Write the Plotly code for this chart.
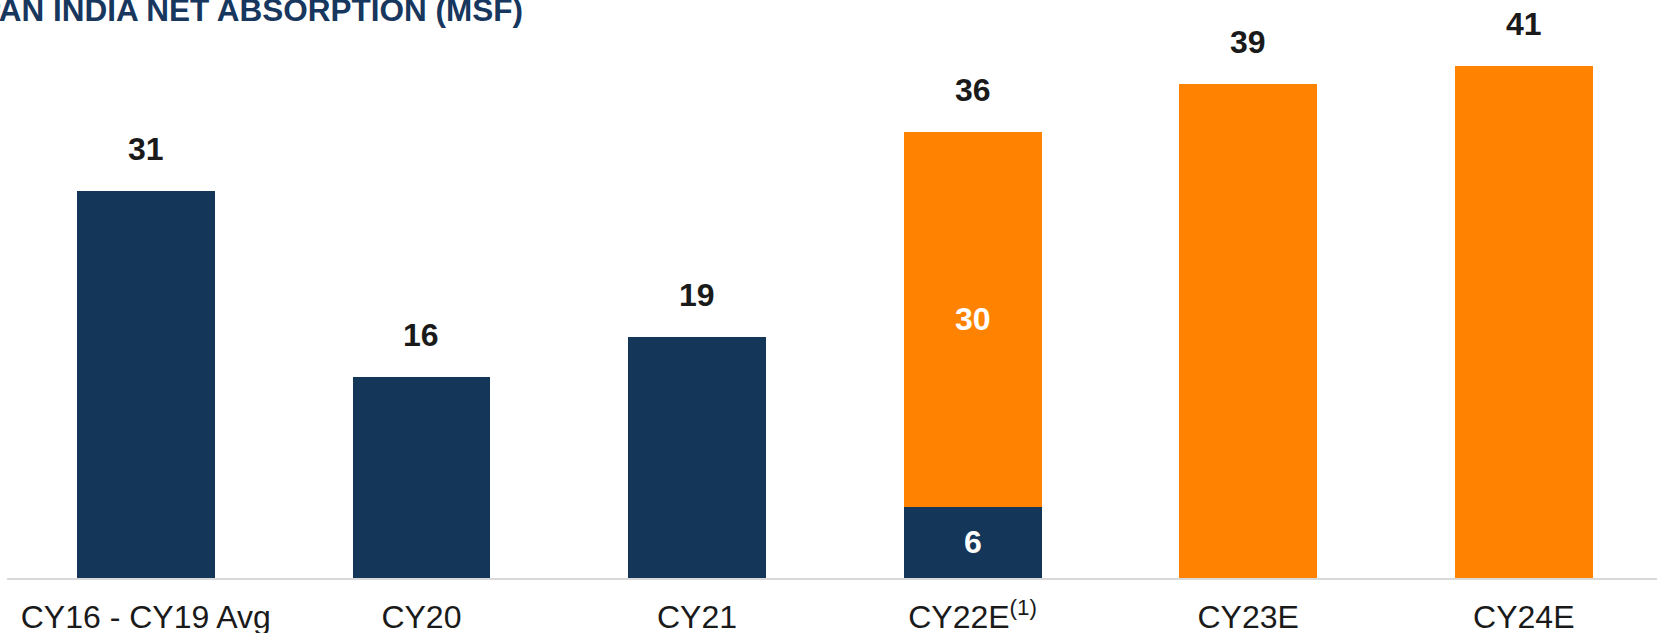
import plotly.graph_objects as go

categories = ["CY16 - CY19 Avg", "CY20", "CY21", "CY22E", "CY23E", "CY24E"]
tick_labels = ["CY16 - CY19 Avg", "CY20", "CY21", "CY22E<sup>(1)</sup>", "CY23E", "CY24E"]
actual_values = [31.0, 16.1, 19.3, 5.7, None, None]
estimate_values = [None, None, None, 30.0, 39.5, 41.0]
actual_inside_text = [None, None, None, "6", None, None]
estimate_inside_text = [None, None, None, "30", None, None]
total_labels = ["31", "16", "19", "36", "39", "41"]
title_text = "PAN INDIA NET ABSORPTION (MSF)"

NAVY = "#133659"
ORANGE = "#ff8200"
FONT = "Liberation Sans, Arial, sans-serif"

W, H = 1657, 633
ML, MR, MT, MB = 7, 0, 40, 55
plot_w = W - ML - MR
plot_h = H - MT - MB
px_per_cat = 275.6
x_min = -0.5 - 1.0 / px_per_cat
x_max = x_min + plot_w / px_per_cat
px_per_unit = 12.5
y_max = plot_h / px_per_unit

fig = go.Figure()
fig.add_trace(go.Bar(
    x=categories, y=actual_values, marker=dict(color=NAVY, line=dict(width=0)),
    width=0.5, hoverinfo="skip", showlegend=False,
))
fig.add_trace(go.Bar(
    x=categories, y=estimate_values, marker=dict(color=ORANGE, line=dict(width=0)),
    width=0.5, hoverinfo="skip", showlegend=False,
))

# white labels centred inside the CY22E segments
for cat, a, e, ta, te in zip(categories, actual_values, estimate_values,
                             actual_inside_text, estimate_inside_text):
    base = a or 0
    if ta:
        fig.add_annotation(x=cat, y=base / 2, text=f"<b>{ta}</b>", showarrow=False,
                           xref="x", yref="y", yanchor="middle",
                           font=dict(family=FONT, size=32, color="white"))
    if te:
        fig.add_annotation(x=cat, y=base + e / 2, text=f"<b>{te}</b>", showarrow=False,
                           xref="x", yref="y", yanchor="middle",
                           font=dict(family=FONT, size=32, color="white"))

totals = [(a or 0) + (e or 0) for a, e in zip(actual_values, estimate_values)]
for cat, tot, lab in zip(categories, totals, total_labels):
    fig.add_annotation(
        x=cat, y=tot, text=f"<b>{lab}</b>", showarrow=False,
        xref="x", yref="y", yanchor="middle", yshift=42,
        font=dict(family=FONT, size=32, color="#1a1a1a"),
    )

fig.add_annotation(
    x=(-22.3 - ML) / plot_w, y=(H - MB - 10) / plot_h, xref="paper", yref="paper",
    xanchor="left", yanchor="middle", showarrow=False,
    text=f"<b>{title_text}</b>",
    font=dict(family=FONT, size=31.5, color="#17375e"),
)

fig.update_layout(
    width=W, height=H,
    margin=dict(l=ML, r=MR, t=MT, b=MB, pad=0, autoexpand=False),
    barmode="stack",
    paper_bgcolor="white", plot_bgcolor="white",
    xaxis=dict(
        range=[x_min, x_max], tickmode="array", tickvals=categories, ticktext=tick_labels,
        showline=True, linecolor="#d9d9d9", linewidth=2, showgrid=False, ticks="",
        tickfont=dict(family=FONT, size=32, color="#1a1a1a"), zeroline=False,
        automargin=False, ticklabelstandoff=10,
    ),
    yaxis=dict(range=[0, y_max], visible=False, showgrid=False, zeroline=False,
               automargin=False),
)

fig.write_html(
    "out.html",
    config={"displayModeBar": False},
    post_script="document.body.style.margin='0';document.body.style.padding='0';"
                "document.body.style.overflow='hidden';",
)
